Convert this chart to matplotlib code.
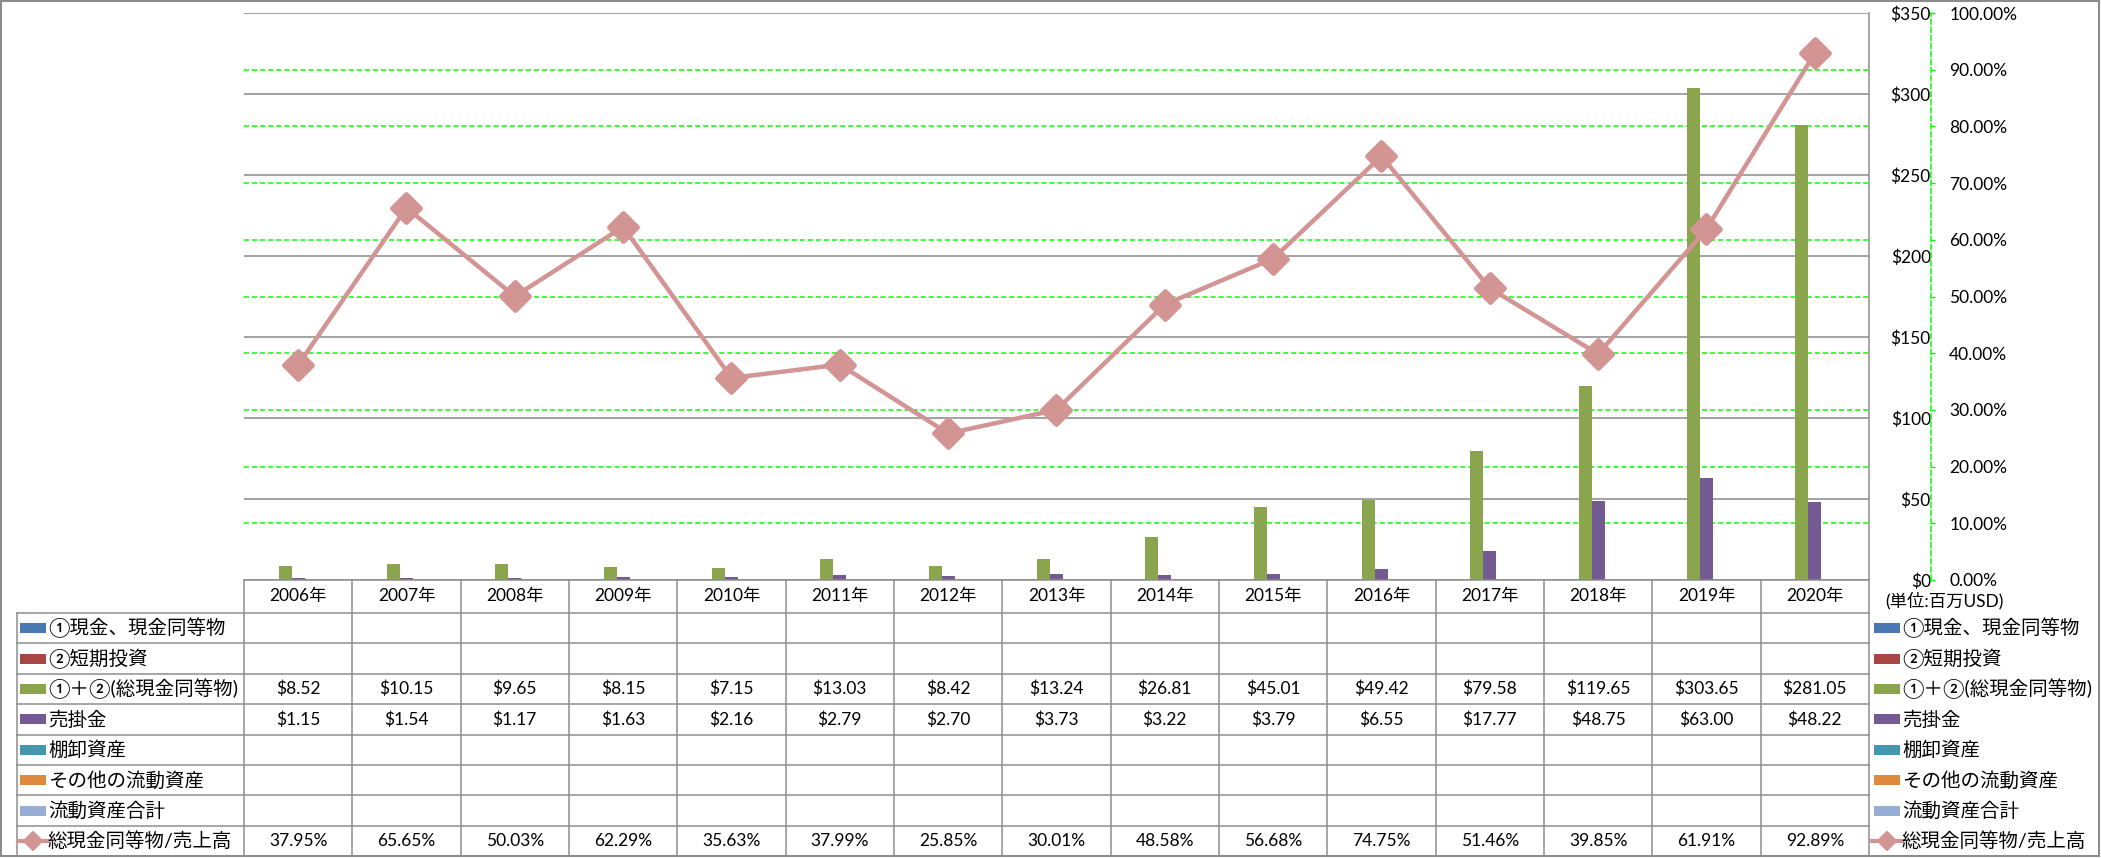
import numpy as np
import matplotlib
matplotlib.use('Agg')
import matplotlib.pyplot as plt
from matplotlib.patches import Rectangle
from matplotlib.lines import Line2D
from matplotlib.markers import MarkerStyle
from matplotlib.ticker import FixedLocator, FuncFormatter

plt.rcParams['font.family'] = ['Lato', 'Noto Sans CJK JP', 'DejaVu Sans']
plt.rcParams['lines.scale_dashes'] = False

# ---------------- data ----------------
years = ['2006年', '2007年', '2008年', '2009年', '2010年', '2011年', '2012年', '2013年',
         '2014年', '2015年', '2016年', '2017年', '2018年', '2019年', '2020年']
cash_eq = [None] * 15
short_inv = [None] * 15
total_cash = [8.52, 10.15, 9.65, 8.15, 7.15, 13.03, 8.42, 13.24, 26.81, 45.01, 49.42,
              79.58, 119.65, 303.65, 281.05]
receivables = [1.15, 1.54, 1.17, 1.63, 2.16, 2.79, 2.70, 3.73, 3.22, 3.79, 6.55,
               17.77, 48.75, 63.00, 48.22]
inventory = [None] * 15
other_ca = [None] * 15
total_ca = [None] * 15
cash_to_sales = [37.95, 65.65, 50.03, 62.29, 35.63, 37.99, 25.85, 30.01, 48.58, 56.68,
                 74.75, 51.46, 39.85, 61.91, 92.89]

bar_names = ['①現金、現金同等物', '②短期投資', '①＋②(総現金同等物)', '売掛金',
             '棚卸資産', 'その他の流動資産', '流動資産合計']
line_name = '総現金同等物/売上高'
bar_colors = ['#4A78B0', '#A84644', '#8AA54E', '#735A93', '#4398AF', '#E08A3F', '#98AED4']
line_color = '#D39494'

usd_ticks = [0, 50, 100, 150, 200, 250, 300, 350]
pct_ticks = [0.0, 0.1, 0.2, 0.3, 0.4, 0.5, 0.6, 0.7, 0.8, 0.9, 1.0]
unit_label = '(単位:百万USD)'

# ---------------- layout ----------------
W, H = 2101, 858
PL, PR, PT, PB = 244, 1869, 13, 580
TL = 17
ROW0, RH = 613, 30.4
PX = 0.72  # points per pixel at dpi 100
FS = 12.5
FSJ = 14
GRAY = '#8C8C8C'
GREEN = '#00FF00'

fig = plt.figure(figsize=(W / 100, H / 100), dpi=100)
ax = fig.add_axes([PL / W, 1 - PB / H, (PR - PL) / W, (PB - PT) / H])

x = np.arange(len(years))
bw = 0.12
bar_series = [cash_eq, short_inv, total_cash, receivables, inventory, other_ca, total_ca]
for k, (vals, col) in enumerate(zip(bar_series, bar_colors)):
    v = np.array([np.nan if a is None else a for a in vals], float)
    ax.bar(x + (k - 3) * bw, v, width=bw, color=col, zorder=2, linewidth=0)

ax.set_xlim(-0.5, len(years) - 0.5)
ax.set_ylim(usd_ticks[0], usd_ticks[-1])
ax.set_xticks([])

ax2 = ax.twinx()
ax2.set_ylim(0, 1)
mk = MarkerStyle('D', joinstyle='round')
ax2.plot(x, np.array(cash_to_sales) / 100, color=line_color, lw=3.2, marker=mk,
         ms=14, mec=line_color, mfc=line_color, mew=3.5, solid_joinstyle='round', zorder=3)
ax2.set_yticks(pct_ticks)
ax2.yaxis.set_major_formatter(FuncFormatter(lambda v, p: f'{v * 100:.2f}%'))
for n, s in ax2.spines.items():
    s.set_visible(n == 'right')
ax2.spines['right'].set_position(('axes', (1931 - PL) / (PR - PL)))
ax2.spines['right'].set_color(GREEN)
ax2.spines['right'].set_linestyle((0, (3.6, 2.2)))
ax2.spines['right'].set_linewidth(1.5 * PX)
ax2.tick_params(axis='y', direction='out', length=3, width=1, color=GREEN,
                pad=(1949 - 1935) * PX, labelsize=FS)

# primary ($) axis: labels on the right, right-aligned, after twinx
ax.set_yticks(usd_ticks)
ax.set_yticklabels([f'${t}' for t in usd_ticks])
ax.yaxis.set_minor_locator(FixedLocator([p * usd_ticks[-1] for p in pct_ticks]))
ax.set_axisbelow(True)
ax.grid(which='minor', axis='y', color=GREEN, linestyle=(0, (3.6, 2.2)), lw=1.5 * PX)
ax.grid(which='major', axis='y', color='#878787', linestyle='-', lw=1.5 * PX)
ax.yaxis.set_ticks_position('right')
ax.tick_params(axis='y', which='both', left=False, right=False, labelleft=False,
               labelright=True, labelsize=FS, pad=(1926 - PR) * PX)
for t in ax.yaxis.get_major_ticks():
    t.label2.set_horizontalalignment('right')
for s in ax.spines.values():
    s.set_visible(False)

# ---------------- data table & legend overlay ----------------
ov = fig.add_axes([0, 0, 1, 1], zorder=5)
ov.set_xlim(0, W)
ov.set_ylim(H, 0)
ov.axis('off')
ov.patch.set_visible(False)

cw = (PR - PL) / len(years)
n_rows = len(bar_names) + 1
bottom = ROW0 + n_rows * RH
lw = 1.5 * PX

ov.add_line(Line2D([PL, PR], [PB, PB], color=GRAY, lw=lw))
for r in range(n_rows + 1):
    yy = ROW0 + r * RH
    ov.add_line(Line2D([TL, PR], [yy, yy], color=GRAY, lw=lw))
ov.add_line(Line2D([TL, TL], [ROW0, bottom], color=GRAY, lw=lw))
for i in range(len(years) + 1):
    xx = PL + i * cw
    y0 = PT if i == len(years) else PB
    ov.add_line(Line2D([xx, xx], [y0, bottom], color=GRAY, lw=lw))

# outer chart border
ov.add_patch(Rectangle((1, 1), W - 3, H - 3, fill=False, edgecolor=GRAY, lw=2 * PX))

for i, yl in enumerate(years):
    ov.text(PL + (i + 0.5) * cw, (PB + ROW0) / 2, yl, ha='center', va='center', fontsize=FS)

all_rows = bar_series + [cash_to_sales]
for r, vals in enumerate(all_rows):
    cy = ROW0 + (r + 0.5) * RH
    for i, v in enumerate(vals):
        if v is None:
            continue
        s = f'{v:.2f}%' if r == len(bar_series) else f'${v:.2f}'
        ov.text(PL + (i + 0.5) * cw, cy, s, ha='center', va='center', fontsize=FS)


def legend_entry(x0, r, name, color, is_line=False):
    cy = ROW0 + (r + 0.5) * RH
    if is_line:
        ov.add_line(Line2D([x0 - 2, x0 + 28], [cy, cy], color=color, lw=3))
        ov.add_line(Line2D([x0 + 13], [cy], marker=MarkerStyle('D', joinstyle='round'),
                           ms=9, color=color, mew=1.5))
    else:
        ov.add_patch(Rectangle((x0, cy - 5), 26, 10, color=color, lw=0))
    ov.text(x0 + 28, cy, name, ha='left', va='center', fontsize=FSJ)


for r, (nm, col) in enumerate(zip(bar_names, bar_colors)):
    legend_entry(20, r, nm, col)
    legend_entry(1874, r, nm, col)
legend_entry(20, len(bar_names), line_name, line_color, True)
legend_entry(1874, len(bar_names), line_name, line_color, True)

ov.text(1885, 601, unit_label, ha='left', va='center', fontsize=FS)

fig.savefig('out.png', dpi=100)
